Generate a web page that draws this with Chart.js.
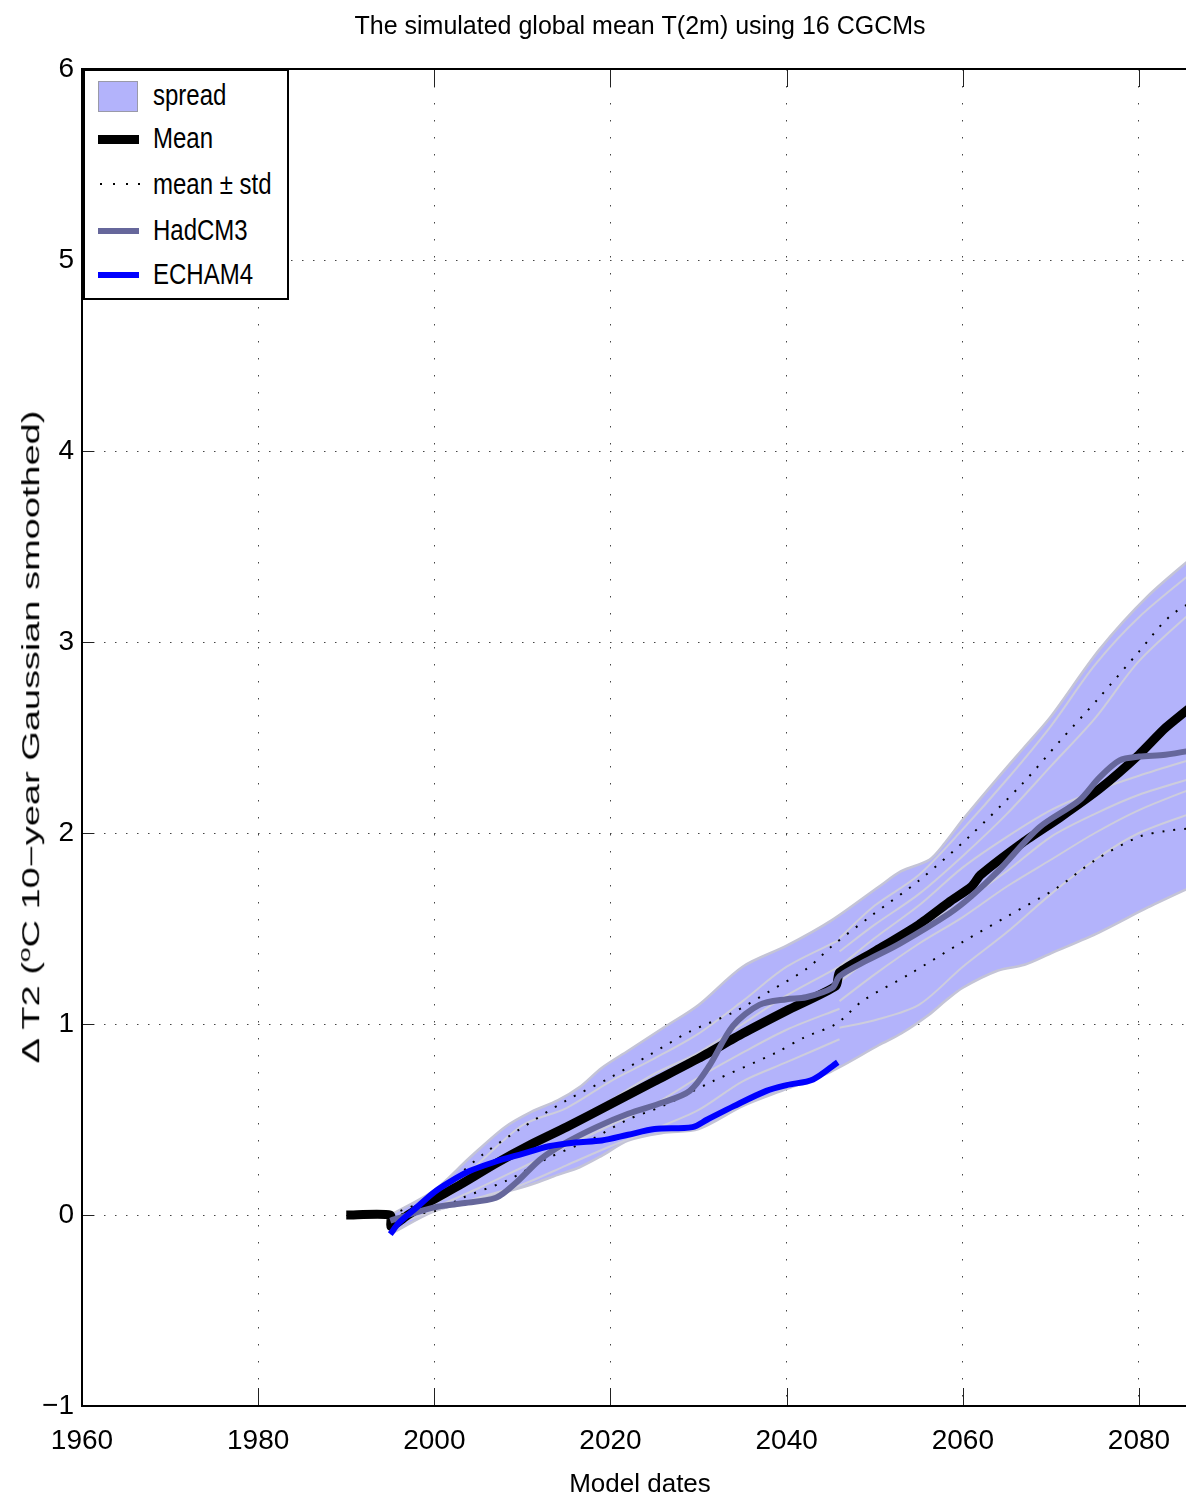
<!DOCTYPE html>
<html lang="en">
<head>
<meta charset="UTF-8">
<title>Simulated global mean T(2m)</title>
<script src="https://cdn.jsdelivr.net/npm/chart.js@4.4.1/dist/chart.umd.min.js"></script>
<style>
  html, body { margin: 0; padding: 0; background: #fff; overflow: hidden; }
  #wrap { position: relative; width: 1200px; height: 1504px; }
  #legend { position: absolute; left: 83px; top: 69px; width: 202px; height: 227px; border: 2px solid #000; background: #fff;
    font-family: 'Liberation Sans', Arial, sans-serif; }
  #legend .row { position: absolute; left: 0; height: 40px; width: 200px; }
  #legend .txt { position: absolute; left: 68px; top: 0; line-height: 40px; font-size: 30px; color: #000; white-space: nowrap;
    transform-origin: 0 50%; transform: scaleX(0.8); }
  #legend .sw { position: absolute; left: 13px; }
  #legend .dot { position: absolute; top: 19px; width: 2px; height: 2px; background: #000; }
  #ytitle { position: absolute; left: 30px; top: 737px; width: 0; height: 0; }
  #ytitle span { position: absolute; left: 0; top: 0; white-space: nowrap; line-height: 1;
    font-family: 'Liberation Sans', Arial, sans-serif; font-size: 23px; color: #000;
    transform-origin: 0 0; transform: rotate(-90deg) scaleX(1.65) translate(-50%, -50%); }
</style>
</head>
<body>
<div id="wrap">
  <canvas id="myChart" width="1200" height="1504"></canvas>
  <div id="legend">
    <div class="row" style="top:4px"><div class="sw" style="top:6px;width:40px;height:31px;background:#b3b3fb;border:1px solid #9a9aa8;box-sizing:border-box"></div><div class="txt">spread</div></div>
    <div class="row" style="top:47px"><div class="sw" style="top:17px;width:41px;height:9px;background:#000"></div><div class="txt">Mean</div></div>
    <div class="row" style="top:93px"><div class="dot" style="left:15px"></div><div class="dot" style="left:28px"></div><div class="dot" style="left:41px"></div><div class="dot" style="left:53px"></div><div class="txt">mean ± std</div></div>
    <div class="row" style="top:139px"><div class="sw" style="top:18px;width:41px;height:6px;background:#66679b"></div><div class="txt">HadCM3</div></div>
    <div class="row" style="top:183px"><div class="sw" style="top:18px;width:41px;height:6px;background:#0000ff"></div><div class="txt">ECHAM4</div></div>
  </div>
  <div id="ytitle"><span>Δ T2 (<sup style="font-size:16px">o</sup>C 10−year Gaussian smoothed)</span></div>
</div>
<script>
    // ensemble mean
    const meanYears = [1990, 1995, 1995.1, 1997, 1999.5, 2003, 2007, 2011, 2015, 2020, 2025, 2030, 2035, 2040, 2045.6, 2046, 2050, 2055, 2058.5, 2061, 2062, 2066.8, 2071, 2075.5, 2080, 2083, 2087];
    const meanT = [0, 0, -0.06, 0.0, 0.07, 0.16, 0.27, 0.37, 0.46, 0.58, 0.7, 0.82, 0.95, 1.07, 1.2, 1.27, 1.38, 1.52, 1.64, 1.72, 1.78, 1.95, 2.08, 2.23, 2.41, 2.55, 2.7];
    // HadCM3
    const hadYears = [1995, 1997, 2000, 2003, 2007, 2009.3, 2012, 2014.6, 2018.4, 2022, 2026, 2029, 2031.2, 2033.9, 2036.9, 2040, 2042.2, 2045.2, 2046, 2049, 2052.8, 2058.5, 2061, 2064, 2068.7, 2073.2, 2075.5, 2077.8, 2080, 2083, 2087];
    const hadT = [-0.03, 0.0, 0.04, 0.06, 0.09, 0.17, 0.29, 0.37, 0.46, 0.53, 0.59, 0.65, 0.78, 0.99, 1.1, 1.13, 1.14, 1.19, 1.25, 1.33, 1.42, 1.58, 1.67, 1.8, 2.03, 2.17, 2.29, 2.38, 2.4, 2.41, 2.44];
    // ECHAM4
    const echYears = [1995, 1996, 1998, 2000, 2002, 2004, 2007, 2010, 2013, 2016, 2019, 2022, 2025, 2029.3, 2031, 2034, 2037.7, 2040, 2043, 2045.8];
    const echT = [-0.1, -0.04, 0.04, 0.12, 0.18, 0.23, 0.28, 0.32, 0.36, 0.38, 0.39, 0.42, 0.45, 0.46, 0.5, 0.57, 0.65, 0.68, 0.71, 0.8];
    // spread (min / max of the 16 models)
    const spreadYears = [1995, 2000, 2004, 2008, 2011, 2014, 2016.5, 2019, 2022, 2026, 2030, 2035, 2040, 2045, 2050.5, 2053, 2056.2, 2058, 2060, 2064, 2067, 2070, 2075.5, 2081, 2087];
    const spreadHi = [0, 0.13, 0.3, 0.46, 0.54, 0.6, 0.67, 0.77, 0.86, 0.98, 1.1, 1.3, 1.41, 1.54, 1.72, 1.8, 1.86, 1.95, 2.07, 2.29, 2.45, 2.61, 2.96, 3.24, 3.48];
    const spreadLo = [-0.1, 0.02, 0.07, 0.12, 0.16, 0.21, 0.25, 0.31, 0.39, 0.43, 0.45, 0.57, 0.66, 0.75, 0.89, 0.95, 1.05, 1.12, 1.19, 1.28, 1.31, 1.37, 1.48, 1.61, 1.74];
    // mean +/- std
    const stdHiYears = [1995, 2000, 2003, 2005.6, 2009.4, 2015, 2020, 2024.5, 2029, 2033.9, 2038, 2042.3, 2045.2, 2049.7, 2055, 2060.7, 2066.8, 2071, 2075.5, 2080, 2083.4, 2087];
    const stdHi = [0, 0.1, 0.22, 0.32, 0.44, 0.6, 0.72, 0.84, 0.96, 1.06, 1.17, 1.29, 1.41, 1.57, 1.75, 1.98, 2.26, 2.48, 2.71, 2.95, 3.13, 3.24];
    const stdLoYears = [1995, 2000, 2003.2, 2008.2, 2013, 2018, 2022, 2025.9, 2031.6, 2038.8, 2042, 2045.6, 2048.6, 2053.9, 2060, 2065.3, 2070.6, 2075.1, 2080, 2083, 2087];
    const stdLo = [0, 0.02, 0.09, 0.18, 0.3, 0.4, 0.5, 0.57, 0.7, 0.85, 0.93, 1.0, 1.12, 1.26, 1.43, 1.57, 1.71, 1.86, 1.98, 2.01, 2.03];
    // some of the single models (light grey)
    const earlyYears = [1996, 2000, 2005, 2010, 2015, 2020, 2025, 2030, 2035, 2040, 2046];
    const early1 = [0.0, 0.08, 0.27, 0.47, 0.56, 0.7, 0.82, 0.95, 1.12, 1.3, 1.44];
    const early2 = [0.0, 0.06, 0.2, 0.34, 0.45, 0.6, 0.74, 0.85, 1.0, 1.15, 1.3];
    const early3 = [-0.02, 0.04, 0.14, 0.25, 0.36, 0.47, 0.58, 0.72, 0.85, 0.97, 1.08];
    const early4 = [-0.04, 0.02, 0.09, 0.16, 0.26, 0.36, 0.45, 0.55, 0.7, 0.8, 0.92];
    const lateYears = [2046, 2050, 2055, 2060, 2065, 2070, 2075, 2080, 2087];
    const late1 = [1.45, 1.62, 1.78, 2.02, 2.28, 2.56, 2.88, 3.13, 3.4];
    const late2 = [1.38, 1.52, 1.68, 1.88, 2.1, 2.35, 2.6, 2.9, 3.2];
    const late3 = [1.3, 1.45, 1.62, 1.82, 1.98, 2.12, 2.22, 2.3, 2.4];
    const late4 = [1.22, 1.36, 1.5, 1.64, 1.8, 1.98, 2.1, 2.2, 2.3];
    const late5 = [1.12, 1.26, 1.42, 1.56, 1.72, 1.86, 2.0, 2.12, 2.25];
    const late6 = [0.98, 1.02, 1.1, 1.3, 1.48, 1.68, 1.86, 2.0, 2.12];

    const xTicks = [1960, 1980, 2000, 2020, 2040, 2060, 2080];
    const yTicks = [-1, 0, 1, 2, 3, 4, 5, 6];

    const sans = "'Liberation Sans', Arial, sans-serif";

    function pts(xs, ys) {
        return xs.map((x, i) => ({ x: x, y: ys[i] }));
    }

    function grey(xs, ys) {
        return { data: pts(xs, ys), borderColor: '#cdcddc', borderWidth: 2, pointRadius: 0, tension: 0.3 };
    }

    // box, inward ticks (matlab look)
    const framePlugin = {
        id: 'frame',
        afterDraw(chart) {
            const { ctx, chartArea: a, scales: { x, y } } = chart;
            ctx.save();
            ctx.strokeStyle = '#222';
            ctx.lineWidth = 1;
            ctx.beginPath();
            xTicks.forEach(v => {
                const px = Math.round(x.getPixelForValue(v)) + 0.5;
                ctx.moveTo(px, a.bottom); ctx.lineTo(px, a.bottom - 18);
                ctx.moveTo(px, a.top); ctx.lineTo(px, a.top + 18);
            });
            yTicks.forEach(v => {
                const py = Math.round(y.getPixelForValue(v)) + 0.5;
                ctx.moveTo(a.left, py); ctx.lineTo(a.left + 12, py);
            });
            ctx.stroke();
            ctx.strokeStyle = '#000';
            ctx.lineWidth = 2;
            ctx.beginPath();
            ctx.moveTo(a.right, a.top);
            ctx.lineTo(a.left, a.top);
            ctx.lineTo(a.left, a.bottom);
            ctx.lineTo(a.right, a.bottom);
            ctx.stroke();
            ctx.restore();
        }
    };

    const ctx = document.getElementById('myChart').getContext('2d');
    const myChart = new Chart(ctx, {
        type: 'line',
        data: {
            datasets: [
                { label: 'ECHAM4', data: pts(echYears, echT), borderColor: '#0000ff', borderWidth: 6, pointRadius: 0, tension: 0.3, borderCapStyle: 'butt' },
                { label: 'HadCM3', data: pts(hadYears, hadT), borderColor: '#66679b', borderWidth: 6, pointRadius: 0, tension: 0.3 },
                { label: 'Mean', data: pts(meanYears, meanT), borderColor: '#000', borderWidth: 9, pointRadius: 0, tension: 0.2, borderCapStyle: 'butt' },
                { label: 'std+', data: pts(stdHiYears, stdHi), borderColor: '#000', borderWidth: 2, borderDash: [2, 9], pointRadius: 0, tension: 0.3 },
                { label: 'std-', data: pts(stdLoYears, stdLo), borderColor: '#000', borderWidth: 2, borderDash: [2, 9], pointRadius: 0, tension: 0.3 },
                grey(earlyYears, early1), grey(earlyYears, early2), grey(earlyYears, early3), grey(earlyYears, early4),
                grey(lateYears, late1), grey(lateYears, late2), grey(lateYears, late3),
                grey(lateYears, late4), grey(lateYears, late5), grey(lateYears, late6),
                { label: 'spreadHi', data: pts(spreadYears, spreadHi), borderColor: '#c4c4d6', borderWidth: 2.5, pointRadius: 0, tension: 0.3 },
                { label: 'spread', data: pts(spreadYears, spreadLo), borderColor: '#c4c4d6', borderWidth: 2.5, pointRadius: 0, tension: 0.3,
                  backgroundColor: '#b3b3fb', fill: { target: 15 } }
            ]
        },
        options: {
            responsive: false,
            animation: false,
            devicePixelRatio: 1,
            layout: { padding: { left: 0, right: 2, top: 0, bottom: 0 } },
            plugins: {
                legend: { display: false },
                tooltip: { enabled: false },
                title: {
                    display: true,
                    fullSize: false,
                    text: 'The simulated global mean T(2m) using 16 CGCMs',
                    color: '#000',
                    font: { family: sans, size: 25, weight: 'normal', lineHeight: 1.2 },
                    padding: { top: 12, bottom: 27 }
                }
            },
            scales: {
                x: {
                    type: 'linear',
                    min: 1960,
                    max: 2086.7,
                    afterFit: s => { s.height = 98; },
                    border: { display: false, dash: [1.5, 15.5] },
                    grid: { color: '#444', lineWidth: 1, drawTicks: false },
                    ticks: {
                        stepSize: 20, includeBounds: false, padding: 18, color: '#000', maxRotation: 0,
                        font: { family: sans, size: 28 },
                        callback: v => String(v)
                    },
                    title: { display: true, text: 'Model dates', color: '#000', font: { family: sans, size: 26, lineHeight: 1.2 }, padding: { top: 0, bottom: 4 } }
                },
                y: {
                    min: -1,
                    max: 6,
                    afterFit: s => { s.width = 82; },
                    border: { display: false, dash: [1.5, 9.5] },
                    grid: { color: '#444', lineWidth: 1, drawTicks: false },
                    ticks: {
                        stepSize: 1, padding: 8, color: '#000',
                        font: { family: sans, size: 28 },
                        callback: v => String(v).replace('-', '\u2212')
                    }
                }
            }
        },
        plugins: [framePlugin]
    });
</script>
</body>
</html>
